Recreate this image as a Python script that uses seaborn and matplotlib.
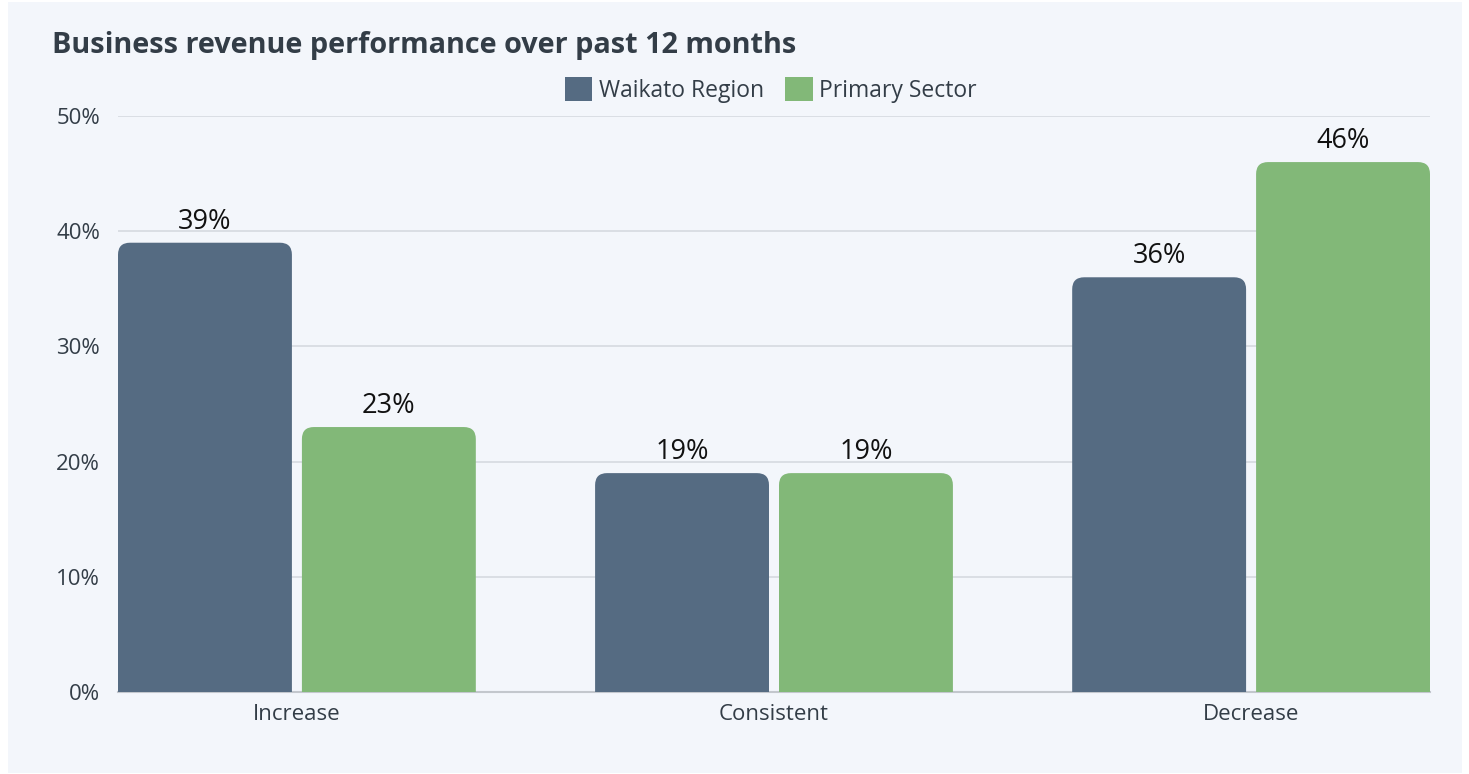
import matplotlib
matplotlib.use("Agg")
import matplotlib.pyplot as plt
import seaborn as sns
import pandas as pd
from matplotlib.patches import Rectangle, PathPatch
from matplotlib.path import Path

categories = ["Increase", "Consistent", "Decrease"]
series_names = ["Waikato Region", "Primary Sector"]
waikato = [39, 19, 36]
primary = [23, 19, 46]
yticks = [0, 10, 20, 30, 40, 50]
ytick_labels = ["0%", "10%", "20%", "30%", "40%", "50%"]
title = "Business revenue performance over past 12 months"

colors = ["#556B82", "#82B878"]
panel_bg = "#F3F6FB"
text_dark = "#333D47"

df = pd.DataFrame({
    "category": categories * 2,
    "series": [series_names[0]] * 3 + [series_names[1]] * 3,
    "value": waikato + primary,
})

sns.set_style("white")
plt.rcParams["font.family"] = ["Open Sans", "DejaVu Sans"]

W, H, DPI = 1469, 774, 100
fig = plt.figure(figsize=(W / DPI, H / DPI), dpi=DPI, facecolor="white")
fig.patches.append(Rectangle((8 / W, 1 - 773 / H), (1462 - 8) / W, (773 - 2) / H,
                             transform=fig.transFigure, facecolor=panel_bg,
                             edgecolor="none", zorder=-5))

ax = fig.add_axes([118 / W, 1 - 692 / H, (1430 - 118) / W, (692 - 116) / H])
ax.set_facecolor(panel_bg)

sns.barplot(data=df, x="category", y="value", hue="series", order=categories,
            hue_order=series_names, palette=colors, width=0.75, gap=0,
            saturation=1, ax=ax, legend=False)

ax.set_xlim(-0.375, 2.375)
ax.set_ylim(0, 50)

# convert pixel sizes to data units
x_per_px = (2.375 + 0.375) / (1430 - 118)
y_per_px = 50 / (692 - 116)
r_px = 12
rx = r_px * x_per_px
ry = r_px * y_per_px
half_gap = 5 * x_per_px


def top_rounded(x, y0, w, h):
    top = y0 + h
    verts = [(x, y0), (x, top - ry), (x, top), (x + rx, top),
             (x + w - rx, top), (x + w, top), (x + w, top - ry),
             (x + w, y0), (x, y0)]
    codes = [Path.MOVETO, Path.LINETO, Path.CURVE3, Path.CURVE3,
             Path.LINETO, Path.CURVE3, Path.CURVE3,
             Path.LINETO, Path.CLOSEPOLY]
    return Path(verts, codes)


bars = list(ax.patches)
for p in bars:
    x, y0, w, h = p.get_x(), p.get_y(), p.get_width(), p.get_height()
    c = p.get_facecolor()
    p.set_visible(False)
    # shrink the inner side of each bar to leave a small gap between the pair
    center = round(x + w / 2)
    if x + w / 2 < center:
        w = w - half_gap
    else:
        x = x + half_gap
        w = w - half_gap
    ax.add_patch(PathPatch(top_rounded(x, y0, w, h), facecolor=c,
                           edgecolor="none", zorder=3))
    ax.annotate(f"{h:.0f}%", (x + w / 2, h), xytext=(0, 10), textcoords="offset points",
                ha="center", va="baseline", fontsize=19.5, color="#111111", zorder=5)

ax.set_yticks(yticks)
ax.set_yticklabels(ytick_labels)
ax.yaxis.grid(True, color="#D6DAE0", linewidth=1.2, zorder=0)
ax.set_axisbelow(True)
for s in ["left", "right", "top"]:
    ax.spines[s].set_visible(False)
ax.spines["bottom"].set_color("#C3C7CD")
ax.spines["bottom"].set_linewidth(1.5)
ax.tick_params(axis="y", length=0, pad=13, labelsize=16, labelcolor=text_dark)
ax.tick_params(axis="x", length=0, pad=9, labelsize=16, labelcolor=text_dark)
ax.set_xlabel("")
ax.set_ylabel("")

fig.text(52 / W, 1 - 45 / H, title, fontsize=20.8, fontweight="bold",
         color=text_dark, ha="left", va="center")

handles = [Rectangle((0, 0), 1, 1, facecolor=c, edgecolor="none") for c in colors]
leg = fig.legend(handles, series_names, loc="center", bbox_to_anchor=(771 / W, 1 - 90 / H),
                 ncol=2, frameon=False, fontsize=16.5, handlelength=1.2, handleheight=1.2,
                 handletextpad=0.3, columnspacing=0.9, labelcolor=text_dark)

fig.savefig("out.png", dpi=DPI, facecolor="white")
